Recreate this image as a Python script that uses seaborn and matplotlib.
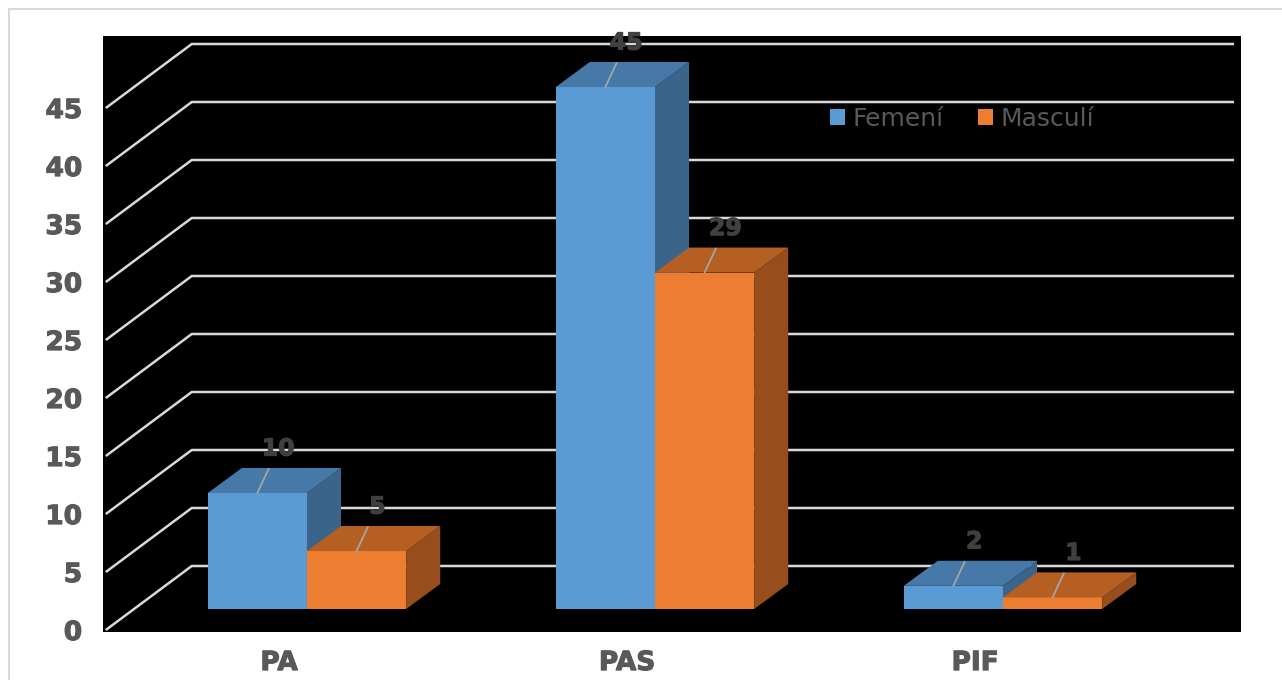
import pandas as pd
import numpy as np
import matplotlib.pyplot as plt
import matplotlib.patheffects as pe
import seaborn as sns
from matplotlib.patches import Polygon, Rectangle

categories = ["PA", "PAS", "PIF"]
femeni = [10, 45, 2]
masculi = [5, 29, 1]
series_names = ["Femení", "Masculí"]
yticks = [0, 5, 10, 15, 20, 25, 30, 35, 40, 45]

df = pd.DataFrame({
    "Categoria": categories * 2,
    "Valor": femeni + masculi,
    "Sexe": [series_names[0]] * 3 + [series_names[1]] * 3,
})

front_cols = ["#5B9BD5", "#ED7D31"]
top_cols = ["#4679A8", "#B55F22"]
side_cols = ["#3A6489", "#984E1C"]

# oblique "3D" offsets (x in category units, y in value units)
bar_dx, bar_dy = 0.098, 2.16      # depth of a bar
floor_dx, floor_dy = 0.080, 1.81  # front of floor -> bar front
wall_dx, wall_dy = 0.247, 5.52    # front of floor -> back wall
x_left, x_right = -0.578, 2.664

sns.set_style("white")
plt.rcParams["font.family"] = ["DejaVu Sans"]
fig = plt.figure(figsize=(12.82, 6.80), dpi=100)
fig.patches.append(Rectangle((9 / 1282, -0.05), 1.2, (680 - 9) / 680 + 0.05,
                             transform=fig.transFigure, fill=False,
                             edgecolor="#D9D9D9", linewidth=1.5))
ax = fig.add_axes([103 / 1282, 48 / 680, 1138 / 1282, 596 / 680])
ax.set_facecolor("black")

sns.barplot(data=df, x="Categoria", y="Valor", hue="Sexe", order=categories,
            hue_order=series_names, palette=front_cols, width=0.57,
            saturation=1, linewidth=0, ax=ax, zorder=2)

# gridlines: diagonal on the side wall + horizontal on the back wall
for v in yticks:
    ax.plot([x_left, x_left + wall_dx, x_right],
            [v - floor_dy, v - floor_dy + wall_dy, v - floor_dy + wall_dy],
            color="#D9D9D9", lw=1.8, zorder=1, solid_capstyle="butt")

heavy = lambda c: [pe.withStroke(linewidth=0.8, foreground=c)]

# depth faces for each bar
for s, cont in enumerate(ax.containers):
    for b in cont.patches:
        x0, w, h = b.get_x(), b.get_width(), b.get_height()
        z = 2 + s
        b.set_zorder(z)
        top = Polygon([(x0, h), (x0 + w, h), (x0 + w + bar_dx, h + bar_dy),
                       (x0 + bar_dx, h + bar_dy)], closed=True,
                      facecolor=top_cols[s], edgecolor="none", zorder=z + 0.1)
        side = Polygon([(x0 + w, 0), (x0 + w, h), (x0 + w + bar_dx, h + bar_dy),
                        (x0 + w + bar_dx, bar_dy)], closed=True,
                       facecolor=side_cols[s], edgecolor="none", zorder=z + 0.05)
        ax.add_patch(side)
        ax.add_patch(top)
        ax.annotate(f"{h:g}", xy=(x0 + w / 2, h), xytext=(15, 32),
                    textcoords="offset points", ha="center", va="center",
                    fontsize=17, fontweight="bold", color="#404040", zorder=6,
                    path_effects=heavy("#404040"),
                    arrowprops=dict(arrowstyle="-", color="#A6A6A6", lw=1.3,
                                    shrinkA=4, shrinkB=0))

ax.set_xlim(-0.586, 2.684)
ax.set_ylim(-1.98, 49.4)
ax.set_yticks([v - floor_dy for v in yticks])
ax.set_yticklabels([str(v) for v in yticks])
ax.set_xticks([i - floor_dx for i in range(len(categories))])
ax.set_xticklabels(categories)
ax.tick_params(axis="y", length=0, pad=15, labelsize=19, labelcolor="#595959")
ax.tick_params(axis="x", length=0, pad=13, labelsize=19, labelcolor="#595959")
for lab in ax.get_xticklabels() + ax.get_yticklabels():
    lab.set_fontweight("bold")
    lab.set_path_effects(heavy("#595959"))
ax.set_xlabel("")
ax.set_ylabel("")
sns.despine(ax=ax, left=True, bottom=True)

handles, labels = ax.get_legend_handles_labels()
ax.legend(handles[:2], labels[:2], loc="center", bbox_to_anchor=(0.755, 0.861),
          ncol=2, frameon=False, fontsize=18, labelcolor="#595959",
          handlelength=0.6, handleheight=0.6, handletextpad=0.3,
          columnspacing=1.4)

fig.savefig("out.png", dpi=100, facecolor="white")
